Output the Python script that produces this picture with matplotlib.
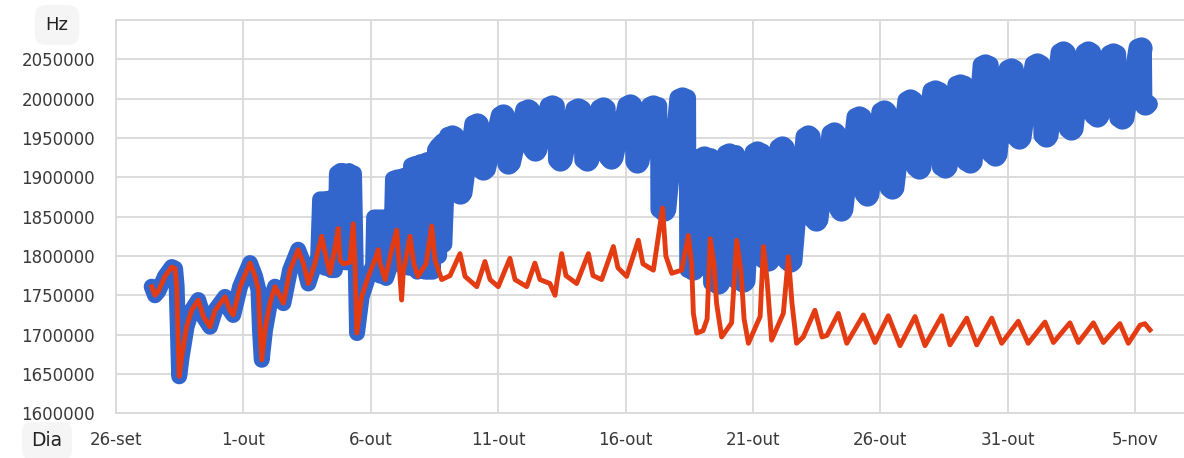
import matplotlib
matplotlib.use("Agg")
import matplotlib.pyplot as plt

# x in days after 26-set, y in Hz
tick_days = [0, 5, 10, 15, 20, 25, 30, 35, 40]
tick_labels = ["26-set", "1-out", "6-out", "11-out", "16-out", "21-out", "26-out", "31-out", "5-nov"]

# red (compensated) series
red_day = [
    1.40, 1.53, 1.66, 1.92, 2.19, 2.32, 2.38, 2.45, 2.48, 2.58,
    2.77, 2.97, 3.23, 3.43, 3.69, 3.89, 4.28, 4.47, 4.60, 4.87,
    5.26, 5.46, 5.59, 5.65, 5.72, 5.85, 6.04, 6.24, 6.37, 6.57,
    6.83, 7.15, 7.35, 7.55, 7.81, 8.07, 8.27, 8.40, 8.59, 8.72,
    8.79, 8.91, 9.18, 9.31, 9.38, 9.45, 9.64, 9.90, 10.16, 10.29,
    10.36, 10.56, 10.82, 11.02, 11.08, 11.21, 11.28, 11.34, 11.54, 11.69,
    11.85, 12.17, 12.39, 12.52, 12.78, 13.11, 13.50, 13.70, 14.16, 14.48,
    14.68, 15.00, 15.46, 15.66, 16.12, 16.44, 16.64, 17.03, 17.23, 17.31,
    17.49, 17.66, 18.08, 18.54, 18.72, 19.06, 19.52, 19.70, 20.04, 20.50,
    20.68, 21.09, 21.45, 21.58, 21.81, 22.20, 22.46, 22.59, 22.66, 22.79,
    23.04, 23.20, 23.32, 23.47, 23.57, 23.77, 24.16, 24.36, 24.53, 24.65,
    24.82, 25.28, 25.41, 25.55, 25.73, 26.19, 26.39, 26.53, 26.71, 26.97,
    27.43, 27.71, 27.90, 28.35, 28.68, 29.33, 29.79, 30.31, 30.77, 31.36,
    31.75, 32.41, 32.73, 33.39, 33.78, 34.37, 34.76, 35.41, 35.80, 36.46,
    36.79, 37.44, 37.77, 38.36, 38.75, 39.40, 39.73, 40.19, 40.38, 40.58,
]
red_hz = [
    1761000, 1750000, 1755000, 1774000, 1786000, 1784000, 1762000, 1680000, 1647000, 1672000,
    1710000, 1731000, 1744000, 1723000, 1710000, 1731000, 1748000, 1731000, 1725000, 1761000,
    1791000, 1774000, 1757000, 1706000, 1668000, 1706000, 1740000, 1761000, 1753000, 1740000,
    1782000, 1808000, 1791000, 1765000, 1791000, 1825000, 1795000, 1778000, 1810000, 1835000,
    1795000, 1790000, 1792000, 1841000, 1790000, 1702000, 1748000, 1774000, 1795000, 1808000,
    1791000, 1770000, 1808000, 1833000, 1804000, 1744000, 1782000, 1790000, 1825000, 1790000,
    1774000, 1790000, 1838000, 1795000, 1770000, 1775000, 1803000, 1774000, 1761000, 1793000,
    1770000, 1761000, 1797000, 1770000, 1761000, 1791000, 1770000, 1765000, 1750000, 1768000,
    1803000, 1775000, 1765000, 1803000, 1775000, 1770000, 1812000, 1785000, 1774000, 1820000,
    1790000, 1782000, 1861000, 1800000, 1778000, 1782000, 1826000, 1791000, 1727000, 1702000,
    1705000, 1720000, 1822000, 1790000, 1740000, 1697000, 1715000, 1820000, 1780000, 1720000,
    1689000, 1723000, 1812000, 1770000, 1693000, 1727000, 1799000, 1740000, 1689000, 1697000,
    1731000, 1697000, 1699000, 1727000, 1689000, 1725000, 1690000, 1724000, 1686000, 1723000,
    1686000, 1724000, 1687000, 1721000, 1687000, 1721000, 1689000, 1717000, 1689000, 1716000,
    1690000, 1715000, 1690000, 1715000, 1690000, 1714000, 1689000, 1712000, 1714000, 1706000,
]

# blue (raw) series: follows the red one until ~4-out
blue_split_day = 7.81
blue_mid_day = [
    7.93, 8.01, 8.15, 8.20, 8.28, 8.36, 8.44, 8.59, 8.67, 8.80,
    8.85, 8.91, 8.99, 9.11, 9.15, 9.22, 9.28, 9.34, 9.46, 9.64,
    9.90, 10.09, 10.13, 10.30, 10.36, 10.44, 10.52, 10.60, 10.79, 10.87,
    11.05, 11.12, 11.20, 11.30, 11.38, 11.50, 11.58, 11.75, 11.82, 11.92,
    12.07, 12.13, 12.21, 12.28, 12.44, 12.52, 12.62, 12.68, 12.74, 12.80,
    12.86,
]
blue_mid_hz = [
    1795000, 1872000, 1872000, 1785000, 1872000, 1873000, 1782000, 1782000, 1905000, 1908000,
    1792000, 1908000, 1792000, 1792000, 1908000, 1800000, 1905000, 1905000, 1702000, 1748000,
    1774000, 1788000, 1849000, 1849000, 1775000, 1849000, 1849000, 1772000, 1790000, 1898000,
    1900000, 1790000, 1900000, 1902000, 1790000, 1785000, 1915000, 1917000, 1780000, 1919000,
    1920000, 1780000, 1922000, 1780000, 1780000, 1935000, 1940000, 1800000, 1944000, 1946000,
    1815000,
]
# then one daily high / low swing
blue_peak_day = [13.17, 14.16, 15.20, 16.16, 17.12, 18.13, 19.11, 20.17, 21.09, 22.21,
                 23.09, 24.07, 25.16, 26.14, 27.16, 28.18, 29.16, 30.14, 31.16, 32.14,
                 33.12, 34.11, 35.13, 36.15, 37.17, 38.15, 39.13, 40.23]
blue_peak_hz = [1953000, 1968000, 1979000, 1986000, 1991000, 1987000, 1988000, 1992000, 1991000, 2001000,
                1926000, 1930000, 1932000, 1938000, 1952000, 1956000, 1977000, 1984000, 1998000, 2010000,
                2018000, 2043000, 2038000, 2044000, 2059000, 2059000, 2057000, 2065000]
blue_low_day = [13.50, 14.42, 15.40, 16.44, 17.43, 18.48, 19.43, 20.45, 21.50, 22.64,
                23.63, 24.61, 25.59, 26.45, 27.47, 28.45, 29.47, 30.45, 31.51, 32.54,
                33.52, 34.50, 35.44, 36.50, 37.48, 38.50, 39.48, 40.40]
blue_low_hz = [1880000, 1910000, 1918000, 1935000, 1922000, 1922000, 1925000, 1920000, 1859000, 1783000,
               1766000, 1768000, 1795000, 1793000, 1846000, 1859000, 1878000, 1886000, 1912000, 1913000,
               1919000, 1929000, 1950000, 1953000, 1961000, 1978000, 1975000, 1993000]

BLUE = "#3366cc"
RED = "#e33b12"
GRID = "#d9d9d9"
TEXT = "#3a3a3a"

# first part of blue: same as red, then the irregular 4-out..9-out swings
early_x = [d for d in red_day if d <= blue_split_day] + blue_mid_day
early_y = red_hz[:len(early_x) - len(blue_mid_day)] + blue_mid_hz

# regular part: high plateau, drop, low plateau, rise to next day
late_x = [blue_mid_day[-1]]
late_y = [blue_mid_hz[-1]]
for pk_d, pk_h, lo_d, lo_h in zip(blue_peak_day, blue_peak_hz, blue_low_day, blue_low_hz):
    mid = (pk_d + lo_d) / 2
    late_x += [pk_d - 0.15, mid, mid + 0.02, lo_d + 0.15]
    late_y += [pk_h, pk_h, lo_h, lo_h]

fig = plt.figure(figsize=(11.84, 4.58), dpi=100)
ax = fig.add_axes([116 / 1184, 1 - 413.3 / 458, 1 - 116 / 1184, (413.3 - 20) / 458])

ax.plot(early_x, early_y, color=BLUE, lw=11.5, solid_joinstyle="round", solid_capstyle="round", zorder=2)
ax.plot(late_x, late_y, color=BLUE, lw=12.5, solid_joinstyle="round", solid_capstyle="round", zorder=2)
# round the daily tops and bottoms like the fat markers of the original
ax.plot(blue_peak_day, blue_peak_hz, "o", color=BLUE, ms=16, mew=0, zorder=2)
ax.plot(blue_low_day, blue_low_hz, "o", color=BLUE, ms=16, mew=0, zorder=2)
ax.plot(red_day, red_hz, color=RED, lw=3.5, solid_joinstyle="round", zorder=3)

ax.set_xlim(0, (1184 - 116) / 25.48)
ax.set_ylim(1600000, 2100000)
ax.set_xticks(tick_days)
ax.set_xticklabels(tick_labels)
ax.set_yticks(range(1600000, 2100001, 50000))
ax.set_yticklabels([str(v) for v in range(1600000, 2050001, 50000)] + [""])
ax.tick_params(length=0, labelsize=12, colors=TEXT)
ax.tick_params(axis="y", pad=15)
ax.tick_params(axis="x", pad=13)
ax.grid(True, color=GRID, lw=1.3)
ax.set_axisbelow(True)
for s in ax.spines.values():
    s.set_color(GRID)
    s.set_linewidth(1.3)
ax.spines["right"].set_visible(False)

fig.text(57 / 1184, 1 - 25 / 458, "Hz", ha="center", va="center", fontsize=13, color="#222222",
         bbox=dict(boxstyle="round,pad=0.6", fc="#f5f5f5", ec="none"))
fig.text(47 / 1184, 1 - 441 / 458, "Dia", ha="center", va="center", fontsize=13.5, color="#222222",
         bbox=dict(boxstyle="round,pad=0.5", fc="#f5f5f5", ec="none"))

fig.savefig("out.png", dpi=100)
